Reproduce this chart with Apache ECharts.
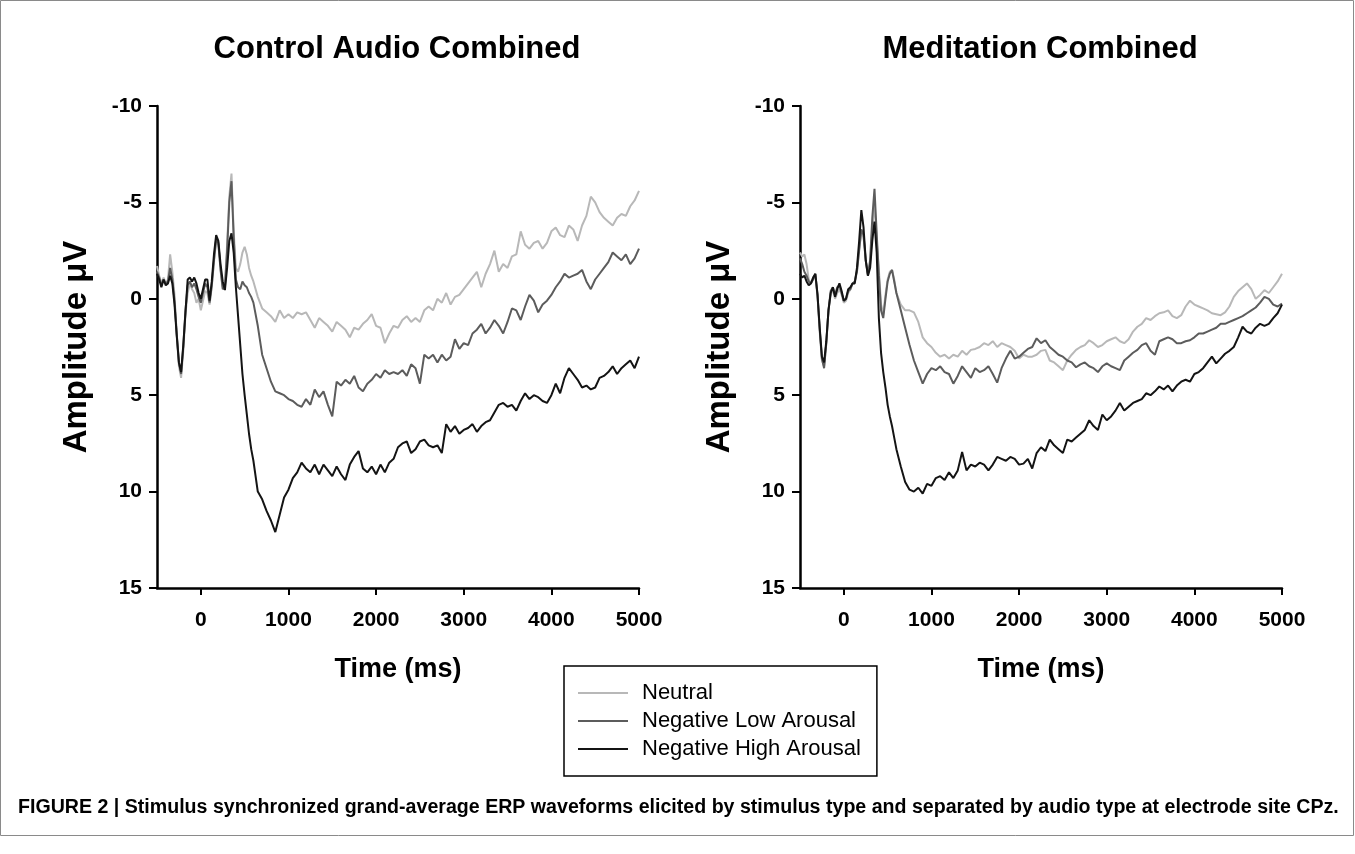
<!DOCTYPE html>
<html>
<head>
<meta charset="utf-8">
<title>ERP waveforms CPz</title>
<script src="https://cdn.jsdelivr.net/npm/echarts@6.0.0/dist/echarts.min.js"></script>
<style>
  html, body { margin: 0; padding: 0; background: #fff; }
  #chart { width: 1355px; height: 854px; }
</style>
</head>
<body>
<div id="chart"></div>
<script>
// sample times (ms): 25 ms steps up to 600, then 50 ms steps
const times = [
  -500, -475, -450, -425, -400, -375, -350, -325, -300, -275,
  -250, -225, -200, -175, -150, -125, -100, -75, -50, -25,
  0, 25, 50, 75, 100, 125, 150, 175, 200, 225,
  250, 275, 300, 325, 350, 375, 400, 425, 450, 475,
  500, 525, 550, 575, 600,
  650, 700, 750, 800, 850, 900, 950, 1000,
  1050, 1100, 1150, 1200, 1250, 1300, 1350, 1400, 1450, 1500,
  1550, 1600, 1650, 1700, 1750, 1800, 1850, 1900, 1950, 2000,
  2050, 2100, 2150, 2200, 2250, 2300, 2350, 2400, 2450, 2500,
  2550, 2600, 2650, 2700, 2750, 2800, 2850, 2900, 2950, 3000,
  3050, 3100, 3150, 3200, 3250, 3300, 3350, 3400, 3450, 3500,
  3550, 3600, 3650, 3700, 3750, 3800, 3850, 3900, 3950, 4000,
  4050, 4100, 4150, 4200, 4250, 4300, 4350, 4400, 4450, 4500,
  4550, 4600, 4650, 4700, 4750, 4800, 4850, 4900, 4950, 5000,
];

// Control Audio Combined (µV, negative up)
const ctlNeutral = [
  -1.7, -1.2, -0.8, -1.1, -0.8, -1.0, -2.3, -1.4, -0.2, 1.9,
  3.5, 4.1, 2.7, 0.8, -0.3, -0.8, -0.5, -0.3, 0.2, 0.0,
  0.6, 0.1, -0.4, -0.3, 0.3, -0.6, -1.9, -3.0, -2.8, -1.6,
  -0.6, -0.7, -2.8, -5.3, -6.5, -3.5, -1.6, -1.4, -1.8, -2.4,
  -2.7, -2.3, -1.6, -1.2, -0.9,
  -0.1, 0.5, 0.7, 0.9, 1.2, 0.6, 1.0, 0.8,
  1.0, 0.7, 0.8, 0.7, 1.1, 1.5, 1.0, 1.2, 1.4, 1.7,
  1.2, 1.4, 1.6, 2.0, 1.5, 1.6, 1.3, 1.1, 0.8, 1.4,
  1.5, 2.3, 1.8, 1.4, 1.5, 1.1, 0.9, 1.2, 1.0, 1.2,
  0.6, 0.4, 0.6, 0.0, 0.2, -0.3, 0.3, -0.1, -0.2, -0.5,
  -0.8, -1.1, -1.4, -0.6, -1.3, -1.8, -2.5, -1.4, -1.8, -1.6,
  -2.2, -2.3, -3.5, -2.8, -2.6, -2.9, -3.0, -2.6, -2.9, -3.5,
  -3.7, -3.3, -3.2, -3.8, -3.6, -3.0, -3.8, -4.3, -5.3, -5.0,
  -4.5, -4.2, -4.0, -3.8, -4.2, -4.4, -4.3, -4.8, -5.1, -5.6,
];
const ctlLow = [
  -1.4, -1.1, -0.7, -1.0, -0.8, -0.9, -1.6, -1.0, 0.1, 1.8,
  3.3, 3.9, 2.5, 0.6, -0.7, -0.9, -0.6, -0.8, -0.5, -0.1,
  0.2, -0.3, -0.8, -0.6, 0.2, -0.7, -2.0, -3.1, -2.9, -1.5,
  -0.5, -0.6, -2.5, -5.0, -6.1, -3.2, -1.0, -0.6, -0.5, -0.9,
  -0.7, -0.6, -0.3, -0.1, 0.2,
  1.4, 2.9, 3.6, 4.3, 4.8, 4.9, 5.0, 5.2,
  5.3, 5.5, 5.6, 5.2, 5.5, 4.7, 5.1, 4.8, 5.5, 6.1,
  4.3, 4.5, 4.2, 4.4, 4.0, 4.6, 4.8, 4.4, 4.2, 3.9,
  4.1, 3.7, 3.9, 3.8, 3.9, 3.7, 4.0, 3.4, 3.6, 4.4,
  2.9, 3.1, 2.9, 3.3, 2.9, 3.2, 3.0, 2.1, 2.6, 2.3,
  2.4, 1.8, 1.6, 1.3, 1.8, 1.5, 1.1, 1.4, 1.8, 1.2,
  0.5, 0.6, 1.1, 0.4, -0.2, 0.1, 0.7, 0.3, 0.1, -0.2,
  -0.6, -0.9, -1.3, -1.1, -1.2, -1.3, -1.5, -0.9, -0.5, -1.0,
  -1.3, -1.6, -1.9, -2.4, -2.2, -2.0, -2.3, -1.8, -2.1, -2.6,
];
const ctlHigh = [
  -1.3, -1.0, -0.6, -1.0, -0.7, -0.8, -1.2, -0.8, 0.3, 1.9,
  3.3, 3.8, 2.4, 0.7, -1.0, -1.1, -0.9, -1.1, -0.8, -0.3,
  0.0, -0.5, -1.0, -1.0, 0.1, -0.9, -2.3, -3.3, -3.0, -1.8,
  -0.9, -0.45, -1.6, -3.0, -3.4, -2.4, -0.6, 0.9, 2.4, 3.9,
  5.0, 6.0, 7.0, 7.8, 8.4,
  10.0, 10.4, 11.0, 11.5, 12.1, 11.2, 10.3, 9.9,
  9.3, 9.0, 8.5, 8.8, 9.0, 8.6, 9.1, 8.6, 8.9, 9.2,
  8.7, 9.1, 9.4, 8.6, 8.2, 7.9, 8.8, 9.0, 8.7, 9.1,
  8.6, 9.0, 8.5, 8.3, 7.7, 7.5, 7.4, 8.0, 7.8, 7.4,
  7.3, 7.6, 7.7, 7.6, 8.0, 6.5, 6.9, 6.6, 7.0, 6.8,
  6.7, 6.5, 6.9, 6.6, 6.4, 6.3, 5.9, 5.5, 5.4, 5.6,
  5.5, 5.8, 5.3, 4.9, 5.2, 5.0, 5.1, 5.3, 5.4, 5.0,
  4.4, 4.9, 4.1, 3.6, 3.9, 4.2, 4.6, 4.5, 4.7, 4.6,
  4.1, 4.0, 3.8, 3.5, 3.9, 3.6, 3.4, 3.2, 3.6, 3.0,
];

// Meditation Combined
const medNeutral = [
  -2.4, -2.2, -2.3, -1.8, -1.0, -0.8, -1.1, -1.2, -0.1, 1.7,
  3.2, 3.5, 2.3, 0.6, -0.2, -0.5, 0.0, -0.3, -0.5, -0.2,
  0.2, 0.1, -0.3, -0.5, -0.8, -0.9, -1.5, -2.6, -3.5, -3.2,
  -2.0, -1.3, -1.8, -3.6, -5.0, -3.0, -1.5, 0.3, 0.8, -0.2,
  -1.0, -1.4, -1.5, -1.0, -0.3,
  0.3, 0.6, 0.6, 0.7, 1.2, 2.0, 2.3, 2.5,
  2.8, 3.0, 2.9, 3.1, 2.9, 3.0, 2.7, 2.9, 2.65, 2.6,
  2.5, 2.3, 2.4, 2.2, 2.5, 2.3, 2.4, 2.5, 2.7, 3.1,
  2.9, 3.0, 3.0, 2.9, 2.7, 2.65, 3.2, 3.3, 3.5, 3.7,
  3.2, 2.9, 2.65, 2.5, 2.4, 2.15, 2.3, 2.5, 2.4, 2.2,
  2.1, 2.0, 2.2, 2.3, 2.1, 1.7, 1.45, 1.3, 1.0, 1.1,
  0.9, 0.75, 0.7, 0.6, 0.9, 1.0, 0.85, 0.4, 0.1, 0.3,
  0.4, 0.5, 0.6, 0.75, 0.8, 0.85, 0.7, 0.4, -0.1, -0.4,
  -0.6, -0.8, -0.5, 0.0, -0.2, -0.45, -0.3, -0.6, -0.9, -1.3,
];
const medLow = [
  -2.1, -1.8, -1.4, -1.2, -0.9, -0.8, -1.0, -1.3, -0.2, 1.6,
  3.1, 3.6, 2.3, 0.6, -0.4, -0.6, -0.2, -0.6, -0.7, -0.3,
  0.1, 0.0, -0.4, -0.5, -0.8, -0.9, -1.4, -2.5, -3.6, -3.3,
  -2.0, -1.2, -2.0, -4.2, -5.7, -3.4, -1.2, 0.6, 1.0, 0.0,
  -0.9, -1.3, -1.5, -0.9, -0.3,
  0.6, 1.5, 2.4, 3.2, 3.8, 4.4, 3.9, 3.6,
  3.7, 3.5, 3.8, 3.9, 4.4, 4.0, 3.5, 3.8, 4.1, 3.6,
  3.8, 3.7, 3.5, 3.9, 4.35, 3.6, 3.1, 2.7, 3.1, 3.0,
  2.8, 2.6, 2.5, 2.05, 2.3, 2.15, 2.5, 2.7, 2.9, 3.0,
  3.2, 3.3, 3.55, 3.4, 3.3, 3.5, 3.6, 3.8, 3.5, 3.35,
  3.5, 3.6, 3.7, 3.2, 3.0, 2.8, 2.65, 2.4, 2.3, 2.7,
  2.9, 2.2, 2.1, 2.0, 2.1, 2.3, 2.3, 2.2, 2.15, 2.0,
  1.8, 1.8, 1.7, 1.6, 1.5, 1.3, 1.3, 1.2, 1.1, 1.0,
  0.9, 0.75, 0.6, 0.45, 0.2, -0.1, 0.0, 0.3, 0.4, 0.25,
];
const medHigh = [
  -1.3, -1.1, -1.2, -0.9, -0.7, -0.8, -1.1, -1.3, -0.2, 1.5,
  3.0, 3.3, 2.2, 0.6, -0.3, -0.6, -0.1, -0.5, -0.8, -0.4,
  0.1, 0.0, -0.5, -0.6, -0.8, -0.8, -1.6, -3.0, -4.6, -3.7,
  -2.0, -1.2, -1.6, -3.0, -4.0, -2.4, 1.0, 2.8, 3.8, 4.6,
  5.5, 6.1, 6.6, 7.2, 7.8,
  8.7, 9.5, 9.9, 10.0, 9.8, 10.1, 9.6, 9.7,
  9.3, 9.2, 9.4, 9.0, 9.3, 8.9, 7.95, 8.9, 8.6, 8.7,
  8.5, 8.6, 8.9, 8.6, 8.2, 8.3, 8.4, 8.2, 8.3, 8.6,
  8.55, 8.3, 8.8, 8.0, 7.7, 7.9, 7.3, 7.6, 7.8, 8.0,
  7.3, 7.4, 7.2, 7.0, 6.8, 6.3, 6.6, 6.8, 6.0, 6.3,
  6.1, 5.8, 5.4, 5.8, 5.6, 5.4, 5.3, 5.2, 4.9, 5.0,
  4.8, 4.55, 4.7, 4.5, 4.8, 4.5, 4.3, 4.2, 4.3, 3.9,
  3.8, 3.6, 3.3, 3.0, 3.35, 3.1, 2.85, 2.7, 2.5, 2.0,
  1.45, 1.7, 1.8, 1.5, 1.3, 1.4, 1.3, 1.0, 0.75, 0.3,
];

const xTicks = [0, 1000, 2000, 3000, 4000, 5000];
const panelTitles = ['Control Audio Combined', 'Meditation Combined'];
const seriesNames = ['Neutral', 'Negative Low Arousal', 'Negative High Arousal'];
const seriesColors = ['#b8b8b8', '#5c5c5c', '#141414'];
const caption = 'FIGURE 2 | Stimulus synchronized grand-average ERP waveforms elicited by stimulus type and separated by audio type at electrode site CPz.';

const FONT = '"Liberation Sans", Arial, sans-serif';
const panelLeft = [157, 800];

const pairs = (vals) => times.map((t, i) => [t, vals[i]]);

const makeX = (gridIndex) => ({
  type: 'value',
  gridIndex,
  min: -500,
  max: 5000,
  name: 'Time (ms)',
  nameLocation: 'middle',
  nameGap: 68,
  nameTextStyle: { color: '#000', fontFamily: FONT, fontWeight: 'bold', fontSize: 27 },
  axisLine: { onZero: false, lineStyle: { color: '#000', width: 2.5 } },
  axisTick: { show: true, length: 7, customValues: xTicks, lineStyle: { color: '#000', width: 2 } },
  axisLabel: {
    customValues: xTicks,
    margin: 22,
    color: '#000',
    fontFamily: FONT,
    fontWeight: 'bold',
    fontSize: 21,
    formatter: (v) => String(v),
  },
  splitLine: { show: false },
});

const makeY = (gridIndex) => ({
  type: 'value',
  gridIndex,
  inverse: true,
  min: -10,
  max: 15,
  interval: 5,
  name: 'Amplitude \u03bcV',
  nameLocation: 'middle',
  nameGap: 64,
  nameTextStyle: { color: '#000', fontFamily: FONT, fontWeight: 'bold', fontSize: 33 },
  axisLine: { onZero: false, lineStyle: { color: '#000', width: 2.5 } },
  axisTick: { show: true, length: 8, lineStyle: { color: '#000', width: 2 } },
  axisLabel: { margin: 15, color: '#000', fontFamily: FONT, fontWeight: 'bold', fontSize: 21 },
  splitLine: { show: false },
});

const makeSeries = (gridIndex, data) =>
  data.map((vals, k) => ({
    name: seriesNames[k],
    type: 'line',
    xAxisIndex: gridIndex,
    yAxisIndex: gridIndex,
    data: pairs(vals),
    showSymbol: false,
    silent: true,
    z: 2 + k,
    lineStyle: { color: seriesColors[k], width: 2 },
    itemStyle: { color: seriesColors[k] },
  }));

const buildOption = () => ({
  animation: false,
  backgroundColor: '#fff',
  title: panelTitles.map((text, i) => ({
    text,
    left: panelLeft[i] + 235,
    top: 29,
    textAlign: 'center',
    textStyle: { color: '#000', fontFamily: FONT, fontWeight: 'bold', fontSize: 31 },
  })),
  legend: {
    orient: 'vertical',
    left: 564,
    top: 666,
    data: seriesNames.map((name) => ({ name, icon: 'rect' })),
    itemWidth: 50,
    itemHeight: 2,
    itemGap: 6,
    padding: [16, 16, 16, 14],
    borderColor: '#000',
    borderWidth: 1.5,
    borderRadius: 0,
    selectedMode: false,
    textStyle: { color: '#000', fontFamily: FONT, fontSize: 22, padding: [0, 0, 0, 9] },
  },
  grid: panelLeft.map((left) => ({ left, top: 106, width: 482, height: 482 })),
  xAxis: [makeX(0), makeX(1)],
  yAxis: [makeY(0), makeY(1)],
  series: [
    ...makeSeries(0, [ctlNeutral, ctlLow, ctlHigh]),
    ...makeSeries(1, [medNeutral, medLow, medHigh]),
  ],
  graphic: [
    {
      type: 'rect',
      shape: { x: 0.5, y: 0.5, width: 1353, height: 835 },
      style: { fill: 'none', stroke: '#8a8a8a', lineWidth: 1 },
      silent: true,
    },
    {
      type: 'text',
      left: 18,
      top: 798,
      style: { text: caption, fill: '#000', font: 'bold 19.6px ' + FONT },
      silent: true,
    },
  ],
});

const chart = echarts.init(document.getElementById('chart'), null, { renderer: 'canvas' });
chart.setOption(buildOption());
window.addEventListener('resize', () => chart.resize());
</script>
</body>
</html>
